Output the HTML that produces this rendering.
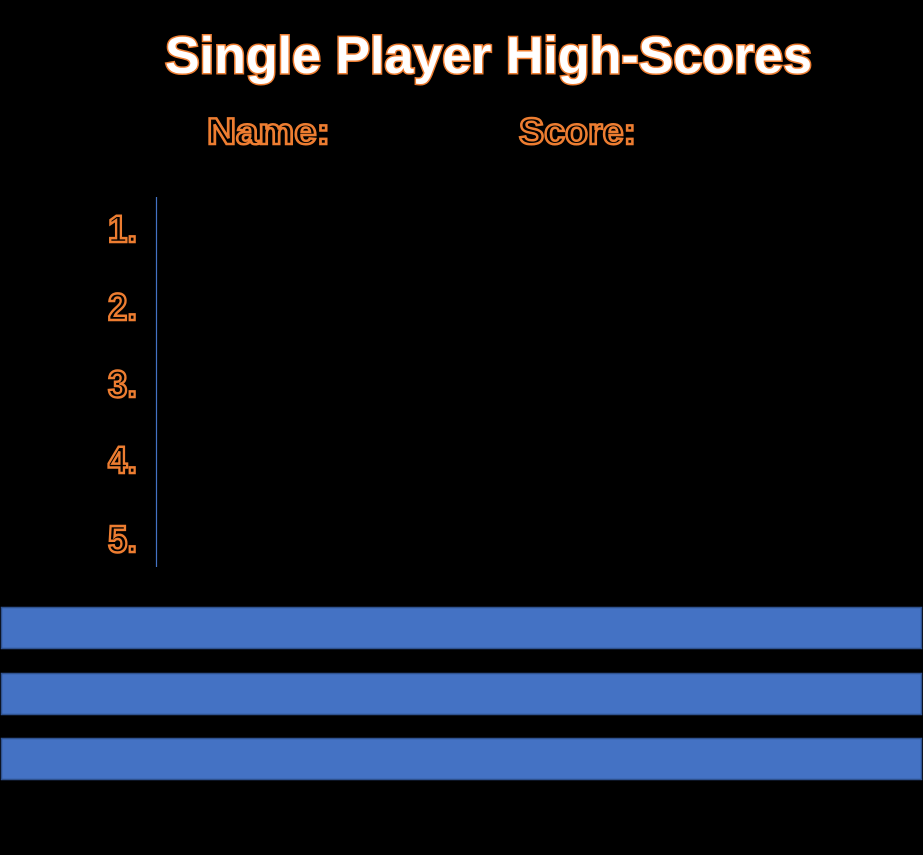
<!DOCTYPE html>
<html><head><meta charset="utf-8"><style>
html,body{margin:0;padding:0;background:#000;}
svg{display:block;}
.t{font-family:"Liberation Sans",sans-serif;font-weight:bold;}
</style></head><body>
<svg width="923" height="855" viewBox="0 0 923 855">
<rect x="0" y="0" width="923" height="855" fill="#000"/>
<text class="t" x="165" y="73" font-size="52" textLength="647" lengthAdjust="spacingAndGlyphs" fill="#fff" stroke="#ed7d31" stroke-width="3" paint-order="stroke">Single Player High-Scores</text>
<text class="t" x="207" y="144" font-size="37" textLength="123" lengthAdjust="spacingAndGlyphs" fill="#000" stroke="#ed7d31" stroke-width="2.5">Name:</text>
<text class="t" x="519" y="144" font-size="37" textLength="117" lengthAdjust="spacingAndGlyphs" fill="#000" stroke="#ed7d31" stroke-width="2.5">Score:</text>
<line x1="156.5" y1="197" x2="156.5" y2="567" stroke="#4472c4" stroke-width="1.2"/>
<g fill="#000" stroke="#ed7d31" stroke-width="2.5" font-size="38">
<text class="t" x="108" y="242" textLength="29" lengthAdjust="spacingAndGlyphs">1.</text>
<text class="t" x="108" y="320" textLength="29" lengthAdjust="spacingAndGlyphs">2.</text>
<text class="t" x="108" y="397" textLength="29" lengthAdjust="spacingAndGlyphs">3.</text>
<text class="t" x="108" y="473" textLength="29" lengthAdjust="spacingAndGlyphs">4.</text>
<text class="t" x="108" y="552" textLength="29" lengthAdjust="spacingAndGlyphs">5.</text>
</g>
<rect x="1.5" y="607.5" width="920" height="41" fill="#4472c4" stroke="#2f528f" stroke-width="1.5"/>
<rect x="1.5" y="673.5" width="920" height="41" fill="#4472c4" stroke="#2f528f" stroke-width="1.5"/>
<rect x="1.5" y="738.5" width="920" height="41" fill="#4472c4" stroke="#2f528f" stroke-width="1.5"/>
</svg>
</body></html>
